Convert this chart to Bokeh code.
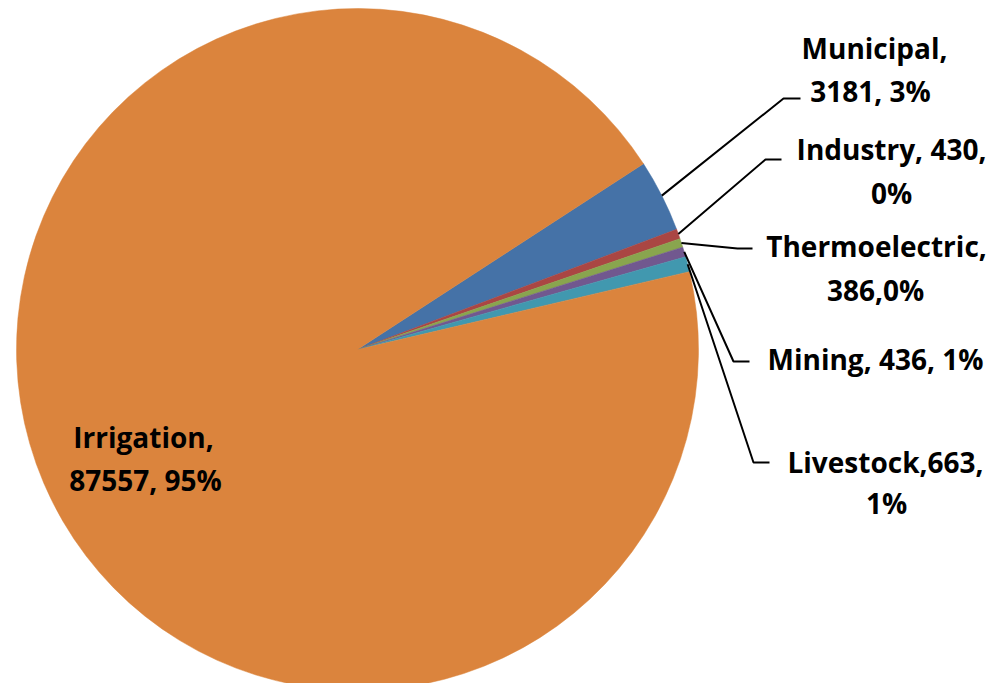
import math
from bokeh.plotting import figure
from bokeh.models import Range1d, ColumnDataSource
from bokeh.core.properties import value
from bokeh.embed import file_html
from bokeh.resources import INLINE

# ---- data ----
categories = ["Municipal", "Industry", "Thermoelectric", "Mining", "Livestock", "Irrigation"]
volumes = [3181, 430, 386, 436, 663, 87557]
colors = ["#4572A7", "#AA4643", "#89A54E", "#71588F", "#4198AF", "#DB843D"]
label_lines = [
    ["Municipal,", "3181, 3%"],
    ["Industry, 430,", "0%"],
    ["Thermoelectric,", "386,0%"],
    ["Mining, 436, 1%"],
    ["Livestock,663,", "1%"],
    ["Irrigation,", "87557, 95%"],
]

# ---- layout (image pixel coordinates; data y = H - image y) ----
W, H = 990, 683
cx, cy_img, R = 357, 349, 341
start_deg = 33.0
elbows = [(783, 98, 800), (765, 159, 781), (737, 248, 752), (733, 361, 749), (753, 462, 769), None]
label_pos = [
    [(874, 47), (870, 90)],
    [(891, 148), (891, 192)],
    [(876, 245), (875, 289)],
    [(875, 358)],
    [(885, 461), (886, 502)],
    [(143, 436), (145, 479)],
]

p = figure(width=W, height=H, x_range=Range1d(0, W), y_range=Range1d(0, H),
           output_backend="svg", toolbar_location=None, min_border=0)
p.axis.visible = False
p.grid.visible = False
p.outline_line_color = None
p.background_fill_color = "white"

total = float(sum(volumes))
cum = 0.0
starts, ends, mids = [], [], []
for v in volumes:
    a0 = start_deg - cum / total * 360.0
    cum += v
    a1 = start_deg - cum / total * 360.0
    starts.append(math.radians(a1))
    ends.append(math.radians(a0))
    mids.append(math.radians((a0 + a1) / 2))

src = ColumnDataSource(dict(x=[cx] * len(volumes), y=[H - cy_img] * len(volumes),
                            s=starts, e=ends, c=colors))
p.wedge(x="x", y="y", radius=R, start_angle="s", end_angle="e", direction="anticlock",
        fill_color="c", line_color="c", line_width=0.5, source=src)

# leader lines
for i, el in enumerate(elbows):
    if el is None:
        continue
    sx = cx + R * math.cos(mids[i])
    sy = (H - cy_img) + R * math.sin(mids[i])
    ex, ey, hx = el
    p.line([sx, ex, hx], [sy, H - ey, H - ey], line_color="black", line_width=2)

# labels
tx, ty, tt = [], [], []
for lines, pos in zip(label_lines, label_pos):
    for t, (x, y) in zip(lines, pos):
        tx.append(x)
        ty.append(H - y)
        tt.append(t)
p.text(x=tx, y=ty, text=tt, text_font=value("Open Sans"), text_font_style="bold",
       text_font_size="28px", text_align="center", text_baseline="middle", text_color="black")

open("out.html", "w").write(file_html(p, INLINE))
